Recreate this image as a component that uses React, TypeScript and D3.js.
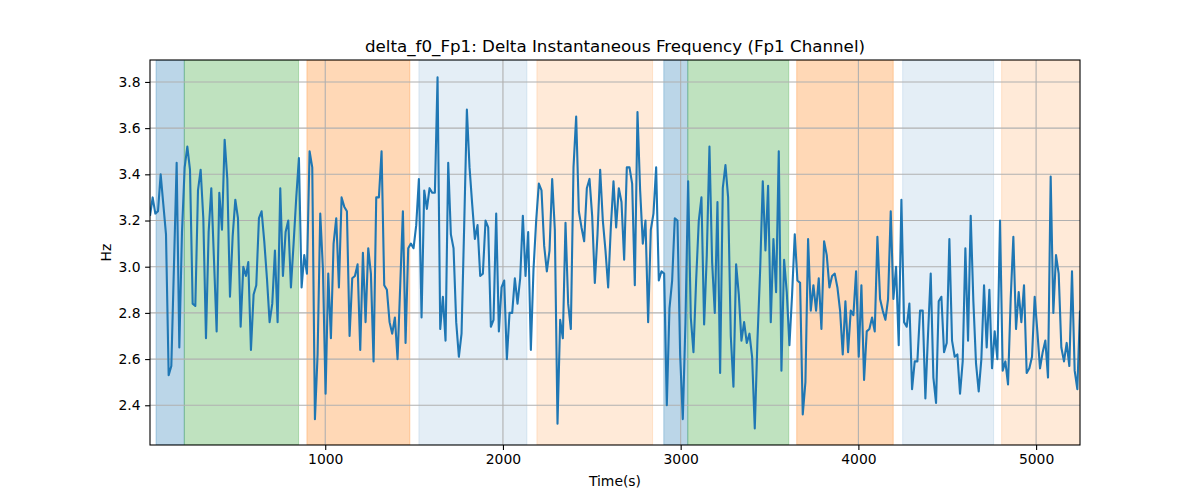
import { useEffect, useRef } from "react";
import * as d3 from "d3";

// sample times (s) and delta f0 values (Hz)
const timeS = [
  14, 29, 44, 59, 74, 89, 104, 119, 134, 149, 164, 179, 194, 209, 224, 239, 254, 269, 284, 299,
  314, 329, 344, 359, 374, 389, 404, 419, 434, 449, 464, 479, 494, 509, 524, 539, 554, 567, 582, 597,
  612, 627, 642, 657, 672, 687, 702, 717, 732, 747, 762, 777, 792, 807, 822, 837, 852, 867, 882, 897,
  912, 927, 942, 957, 972, 987, 1002, 1017, 1032, 1047, 1062, 1077, 1092, 1107, 1122, 1137, 1152, 1167, 1182, 1197,
  1212, 1227, 1242, 1257, 1272, 1287, 1302, 1317, 1332, 1347, 1362, 1377, 1392, 1407, 1422, 1437, 1452, 1467, 1482, 1497,
  1512, 1527, 1542, 1557, 1572, 1587, 1602, 1617, 1632, 1647, 1662, 1677, 1692, 1707, 1722, 1737, 1752, 1767, 1782, 1797,
  1812, 1827, 1842, 1857, 1872, 1887, 1902, 1917, 1932, 1947, 1962, 1977, 1992, 2007, 2022, 2037, 2052, 2067, 2082, 2097,
  2112, 2127, 2142, 2157, 2172, 2187, 2202, 2217, 2232, 2247, 2262, 2277, 2292, 2307, 2322, 2337, 2352, 2367, 2382, 2397,
  2412, 2427, 2442, 2457, 2472, 2487, 2502, 2517, 2532, 2547, 2562, 2577, 2592, 2607, 2622, 2637, 2652, 2667, 2682, 2697,
  2712, 2727, 2742, 2757, 2772, 2787, 2802, 2817, 2832, 2847, 2862, 2877, 2892, 2907, 2922, 2937, 2952, 2967, 2982, 2997,
  3012, 3027, 3042, 3057, 3072, 3087, 3102, 3117, 3132, 3147, 3162, 3177, 3192, 3207, 3222, 3237, 3252, 3267, 3282, 3297,
  3312, 3327, 3342, 3357, 3372, 3387, 3402, 3417, 3432, 3447, 3462, 3477, 3492, 3507, 3522, 3537, 3552, 3567, 3582, 3597,
  3612, 3627, 3642, 3657, 3672, 3687, 3702, 3717, 3732, 3747, 3762, 3777, 3792, 3807, 3822, 3837, 3852, 3867, 3882, 3897,
  3912, 3927, 3942, 3957, 3972, 3987, 4002, 4017, 4032, 4047, 4062, 4077, 4092, 4107, 4122, 4137, 4152, 4167, 4182, 4197,
  4212, 4227, 4242, 4257, 4272, 4287, 4302, 4317, 4332, 4347, 4362, 4377, 4392, 4407, 4422, 4437, 4452, 4467, 4482, 4497,
  4512, 4527, 4542, 4557, 4572, 4587, 4602, 4617, 4632, 4647, 4662, 4677, 4692, 4707, 4722, 4737, 4752, 4767, 4782, 4797,
  4812, 4827, 4842, 4857, 4872, 4887, 4902, 4917, 4932, 4947, 4962, 4977, 4992, 5007, 5022, 5037, 5052, 5067, 5082, 5097,
  5112, 5127, 5142, 5157, 5172, 5187, 5202, 5217, 5232, 5247,
];

const deltaF0 = [
  3.22, 3.30, 3.23, 3.24, 3.40, 3.27, 3.14, 2.53, 2.57, 3.01, 3.45, 2.65, 3.15, 3.43, 3.52, 3.42, 2.84, 2.83, 3.33, 3.42,
  3.21, 2.69, 3.15, 3.34, 3.03, 2.72, 3.32, 3.16, 3.55, 3.38, 2.87, 3.13, 3.29, 3.21, 2.74, 3.00, 2.96, 3.02, 2.64, 2.88,
  2.92, 3.21, 3.24, 3.11, 2.95, 2.76, 2.84, 3.07, 2.76, 3.34, 2.96, 3.15, 3.20, 2.91, 3.10, 3.30, 3.47, 2.91, 3.05, 2.97,
  3.50, 3.43, 2.34, 2.62, 3.23, 2.99, 2.45, 2.97, 2.69, 3.10, 3.21, 2.91, 3.30, 3.26, 3.24, 2.70, 2.95, 2.96, 3.01, 2.64,
  3.06, 2.76, 3.08, 2.97, 2.59, 3.30, 3.30, 3.50, 2.92, 2.90, 2.76, 2.71, 2.78, 2.60, 2.92, 3.24, 2.67, 3.08, 3.10, 3.08,
  3.18, 3.38, 2.78, 3.33, 3.25, 3.34, 3.32, 3.32, 3.82, 2.73, 2.87, 2.68, 3.45, 3.14, 3.08, 2.76, 2.61, 2.71, 3.18, 3.68,
  3.43, 3.27, 3.12, 3.18, 2.96, 2.97, 3.20, 3.17, 2.74, 2.77, 3.23, 2.72, 2.91, 2.94, 2.60, 2.80, 2.80, 2.95, 2.84, 2.95,
  3.22, 2.96, 3.15, 2.64, 2.99, 3.20, 3.36, 3.33, 3.09, 2.98, 3.07, 3.38, 3.16, 2.32, 2.77, 2.69, 3.19, 2.84, 2.73, 3.43,
  3.65, 3.24, 3.17, 3.11, 3.34, 3.38, 3.22, 2.93, 3.14, 3.42, 3.20, 3.07, 2.91, 3.17, 3.37, 3.17, 3.34, 3.28, 3.03, 3.43,
  3.43, 3.36, 2.92, 3.67, 3.33, 3.10, 3.20, 2.76, 3.16, 3.23, 3.43, 2.94, 2.98, 2.97, 2.40, 2.82, 2.94, 3.21, 3.20, 2.62,
  2.34, 2.76, 3.37, 2.78, 2.63, 2.94, 3.20, 3.30, 2.75, 3.05, 3.52, 3.02, 2.80, 3.28, 2.54, 3.34, 3.44, 3.30, 2.70, 2.48,
  3.01, 2.88, 2.68, 2.76, 2.67, 2.71, 2.61, 2.30, 2.68, 2.98, 3.37, 3.07, 3.35, 2.76, 3.12, 2.89, 3.50, 2.55, 3.03, 2.89,
  2.66, 2.88, 3.14, 2.94, 2.93, 2.36, 2.50, 3.12, 2.81, 2.92, 2.81, 2.95, 2.73, 3.11, 3.05, 2.91, 2.96, 2.97, 2.91, 2.81,
  2.62, 2.85, 2.63, 2.81, 2.79, 2.98, 2.61, 2.92, 2.51, 2.72, 2.73, 2.78, 2.72, 3.13, 2.86, 2.81, 2.77, 2.86, 3.24, 2.86,
  3.00, 2.66, 3.29, 2.76, 2.74, 2.84, 2.47, 2.59, 2.59, 2.81, 2.81, 2.43, 2.71, 2.97, 2.52, 2.41, 2.85, 2.87, 2.63, 2.67,
  3.12, 2.68, 2.61, 2.62, 2.45, 2.59, 3.08, 2.68, 3.22, 2.85, 2.58, 2.46, 2.60, 2.92, 2.65, 2.90, 2.56, 2.72, 2.60, 3.20,
  2.55, 2.59, 2.49, 2.86, 3.13, 2.73, 2.89, 2.76, 2.92, 2.54, 2.56, 2.61, 2.87, 2.72, 2.56, 2.63, 2.68, 2.52, 3.39, 2.80,
  3.05, 2.97, 2.65, 2.59, 2.67, 2.57, 2.98, 2.55, 2.47, 2.81,
];

// shaded segments (sleep stages / epochs)
const spanStart = [48, 207, 897, 1527, 2191, 2905, 3040, 3653, 4249, 4806];
const spanEnd = [207, 850, 1476, 2135, 2842, 3040, 3608, 4196, 4761, 5300];
const spanColor = [
  "#1f77b4", "#2ca02c", "#ff7f0e", "#1f77b4", "#ff7f0e",
  "#1f77b4", "#2ca02c", "#ff7f0e", "#1f77b4", "#ff7f0e",
];
const spanAlpha = [0.3, 0.3, 0.3, 0.12, 0.16, 0.3, 0.3, 0.3, 0.12, 0.16];

const yLimits = [2.228, 3.895];

const dims = { w: 1200, h: 500, left: 150, right: 1080, top: 60, bottom: 445 };

const App = () => {
  const svgRef = useRef<SVGSVGElement>(null);

  useEffect(() => {
    const svg = d3.select(svgRef.current);
    svg.selectAll("*").remove();

    // scales
    const xScale = d3
      .scaleLinear()
      .domain([timeS[0], timeS[timeS.length - 1]])
      .range([dims.left, dims.right]);
    const yScale = d3.scaleLinear().domain(yLimits).range([dims.bottom, dims.top]);

    svg
      .append("defs")
      .append("clipPath")
      .attr("id", "plot-clip")
      .append("rect")
      .attr("x", dims.left)
      .attr("y", dims.top)
      .attr("width", dims.right - dims.left)
      .attr("height", dims.bottom - dims.top);

    const plot = svg.append("g").attr("clip-path", "url(#plot-clip)");

    // shaded spans
    plot
      .selectAll(".span")
      .data(spanStart.map((s, i) => ({ s, e: spanEnd[i], c: spanColor[i], a: spanAlpha[i] })))
      .join("rect")
      .attr("x", (d) => xScale(d.s))
      .attr("width", (d) => xScale(d.e) - xScale(d.s))
      .attr("y", dims.top)
      .attr("height", dims.bottom - dims.top)
      .attr("fill", (d) => d.c)
      .attr("fill-opacity", (d) => d.a)
      .attr("stroke", (d) => d.c)
      .attr("stroke-opacity", (d) => d.a)
      .attr("stroke-width", 1);

    const xTicks = xScale.ticks(5).filter((t) => t >= 1000);
    const yTicks = yScale.ticks(8);

    // grid
    plot
      .selectAll(".gx")
      .data(xTicks)
      .join("line")
      .attr("x1", (d) => xScale(d))
      .attr("x2", (d) => xScale(d))
      .attr("y1", dims.top)
      .attr("y2", dims.bottom)
      .attr("stroke", "#b0b0b0")
      .attr("stroke-width", 1.1);
    plot
      .selectAll(".gy")
      .data(yTicks)
      .join("line")
      .attr("x1", dims.left)
      .attr("x2", dims.right)
      .attr("y1", (d) => yScale(d))
      .attr("y2", (d) => yScale(d))
      .attr("stroke", "#b0b0b0")
      .attr("stroke-width", 1.1);

    // the signal
    const line = d3
      .line<number>()
      .x((_, i) => xScale(timeS[i]))
      .y((d) => yScale(d));
    plot
      .append("path")
      .attr("d", line(deltaF0))
      .attr("fill", "none")
      .attr("stroke", "#1f77b4")
      .attr("stroke-width", 2.1)
      .attr("stroke-linejoin", "round");

    // axes
    const xAxis = d3
      .axisBottom(xScale)
      .tickValues(xTicks)
      .tickFormat(d3.format("d"))
      .tickSize(4.9)
      .tickPadding(4.5)
      .tickSizeOuter(0);
    const yAxis = d3
      .axisLeft(yScale)
      .tickValues(yTicks)
      .tickFormat(d3.format(".1f"))
      .tickSize(4.9)
      .tickPadding(4.5)
      .tickSizeOuter(0);

    const gx = svg
      .append("g")
      .attr("transform", `translate(0,${dims.bottom})`)
      .call(xAxis);
    const gy = svg.append("g").attr("transform", `translate(${dims.left},0)`).call(yAxis);
    [gx, gy].forEach((g) => {
      g.select(".domain").remove();
      g.selectAll("line").attr("stroke", "#000").attr("stroke-width", 1.1);
      g.selectAll("text")
        .attr("fill", "#000")
        .style("font-family", "DejaVu Sans")
        .style("font-size", "13.9px");
    });

    // spines
    svg
      .append("rect")
      .attr("x", dims.left)
      .attr("y", dims.top)
      .attr("width", dims.right - dims.left)
      .attr("height", dims.bottom - dims.top)
      .attr("fill", "none")
      .attr("stroke", "#000")
      .attr("stroke-width", 1.1);

    // labels
    svg
      .append("text")
      .attr("x", (dims.left + dims.right) / 2)
      .attr("y", 51.5)
      .attr("text-anchor", "middle")
      .style("font-family", "DejaVu Sans")
      .style("font-size", "16.7px")
      .text("delta_f0_Fp1: Delta Instantaneous Frequency (Fp1 Channel)");
    svg
      .append("text")
      .attr("x", (dims.left + dims.right) / 2)
      .attr("y", 485.5)
      .attr("text-anchor", "middle")
      .style("font-family", "DejaVu Sans")
      .style("font-size", "13.9px")
      .text("Time(s)");
    svg
      .append("text")
      .attr("transform", `translate(111,${(dims.top + dims.bottom) / 2}) rotate(-90)`)
      .attr("text-anchor", "middle")
      .style("font-family", "DejaVu Sans")
      .style("font-size", "13.9px")
      .text("Hz");
  }, []);

  return (
    <svg
      ref={svgRef}
      width={dims.w}
      height={dims.h}
      style={{ position: "absolute", left: 0, top: 0, background: "#fff" }}
    ></svg>
  );
};

export default App;
